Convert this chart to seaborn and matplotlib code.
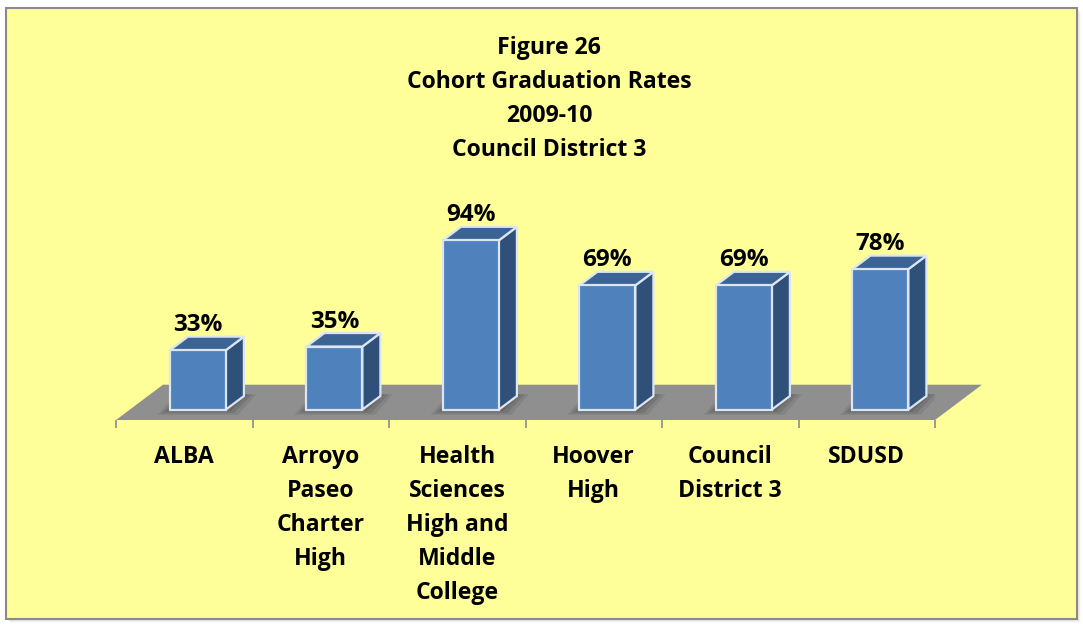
import seaborn as sns
import pandas as pd
import matplotlib.pyplot as plt
from matplotlib.patches import Polygon, Rectangle

# data
schools = ['ALBA', 'Arroyo\nPaseo\nCharter\nHigh', 'Health\nSciences\nHigh and\nMiddle\nCollege',
           'Hoover\nHigh', 'Council\nDistrict 3', 'SDUSD']
rates = [33, 35, 94, 69, 69, 78]
title_lines = ['Figure 26', 'Cohort Graduation Rates', '2009-10', 'Council District 3']

FRONT = '#4F81BD'
SIDE = '#2F5179'
TOP = '#3B6393'
EDGE = '#DCE6F2'
FLOOR = '#8F8F8F'
BG = '#FFFF99'

sns.set_style('white')
plt.rcParams['font.family'] = ['Open Sans', 'DejaVu Sans']
plt.rcParams['font.weight'] = 'bold'
plt.rcParams['text.color'] = 'black'
plt.rcParams['xtick.labelcolor'] = 'black'
FS = 16.6
LS = 1.55

W, H = 1083, 624
fig = plt.figure(figsize=(W / 100, H / 100), dpi=100)
fig.patch.set_facecolor('white')

# panel with a soft shadow on the right / bottom
for i, a in enumerate([0.10, 0.08, 0.06, 0.04]):
    fig.patches.append(Rectangle(((6 + i + 1) / W, (5 - i - 1) / H), 1071 / W, 611 / H,
                                 transform=fig.transFigure, facecolor='#7a7a50', alpha=a,
                                 edgecolor='none', zorder=-2))
fig.patches.append(Rectangle((6 / W, 5 / H), 1071 / W, 611 / H, transform=fig.transFigure,
                             facecolor=BG, edgecolor='#8a8a8a', linewidth=1.5, zorder=-1))

# axes: 136.5 px per category, 1.8 px per percent
ax = fig.add_axes([116 / W, (H - 420) / H, 819 / W, 240 / H])
ax.set_zorder(1)
ax.set_facecolor('none')
df = pd.DataFrame({'school': schools, 'rate': rates})
sns.barplot(data=df, x='school', y='rate', width=0.41, color=FRONT, saturation=1,
            edgecolor=EDGE, linewidth=1.6, ax=ax, zorder=3)
ax.set_xlim(-0.5, 5.5)
ax.set_ylim(-5.8, 127.5)

dx, dy = 0.132, 7.5       # bar depth
fdx, fdy = 0.344, 19.6    # floor depth

# floor
ax.add_patch(Polygon([(-0.5, -5.8), (5.5, -5.8), (5.5 + fdx, -5.8 + fdy), (-0.5 + fdx, -5.8 + fdy)],
                     closed=True, facecolor=FLOOR, edgecolor='none', zorder=0.5, clip_on=False))

for p, v in zip(ax.patches[:len(rates)], rates):
    p.set_x(p.get_x() + 0.1)
    x0, x1, h = p.get_x(), p.get_x() + p.get_width(), p.get_height()
    # soft shadow on the floor
    for k, a in enumerate([0.12, 0.10, 0.08]):
        s = 0.03 * (k + 1)
        ax.add_patch(Polygon([(x0 - s, -1.0 - k), (x1 + s, -1.0 - k), (x1 + dx + s, dy + 1),
                              (x0 + dx - s, dy + 1)], closed=True, facecolor='black',
                             edgecolor='none', alpha=a, zorder=1))
    ax.add_patch(Polygon([(x1, 0), (x1 + dx, dy), (x1 + dx, h + dy), (x1, h)], closed=True,
                         facecolor=SIDE, edgecolor=EDGE, linewidth=1.6, zorder=2.9, clip_on=False))
    ax.add_patch(Polygon([(x0, h), (x1, h), (x1 + dx, h + dy), (x0 + dx, h + dy)], closed=True,
                         facecolor=TOP, edgecolor=EDGE, linewidth=1.6, zorder=2.9, clip_on=False))
    ax.text((x0 + x1) / 2, h + dy + 3, f'{v}%', ha='center', va='baseline',
            fontsize=17.5, fontweight='bold', color='black', clip_on=False)

for side in ['top', 'right', 'left', 'bottom']:
    ax.spines[side].set_visible(False)
ax.set_xlabel('')
ax.set_ylabel('')
ax.set_yticks([])
ax.set_xticks(range(len(schools)))
ax.set_xticklabels(schools, fontsize=FS, fontweight='bold', linespacing=LS, va='top',
                   color='black')
ax.set_xticks([i - 0.5 for i in range(len(schools) + 1)], minor=True)
ax.tick_params(axis='x', which='major', bottom=True, length=0, pad=18)
ax.tick_params(axis='x', which='minor', bottom=True, length=6, width=1.2, color='#8a8a8a',
               direction='out')

fig.text(549 / W, (H - 36) / H, '\n'.join(title_lines), ha='center', va='top',
         fontsize=FS, fontweight='bold', linespacing=LS, color='black')

fig.savefig('out.png', dpi=100)
